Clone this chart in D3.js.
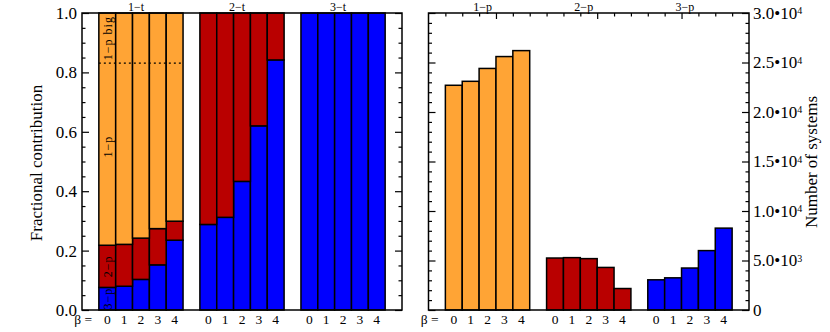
<!DOCTYPE html>
<html>
<head>
<meta charset="utf-8">
<script src="https://cdn.jsdelivr.net/npm/d3@7"></script>
<style>
body { margin: 0; background: #fff; }
svg text { font-family: "Liberation Serif", "Times New Roman", serif; fill: #000; }
</style>
</head>
<body>
<div id="chart"></div>
<script>
// data
var betas = [0, 1, 2, 3, 4];
var fracGroups = ["1−t", "2−t", "3−t"];
var frac3p_1t = [0.076, 0.080, 0.103, 0.152, 0.235];
var frac2p_1t = [0.142, 0.141, 0.139, 0.122, 0.064];
var frac1p_1t = [0.782, 0.779, 0.758, 0.726, 0.701];
var frac3p_2t = [0.288, 0.312, 0.433, 0.620, 0.842];
var frac2p_2t = [0.712, 0.688, 0.567, 0.380, 0.158];
var frac3p_3t = [1, 1, 1, 1, 1];
var bigSplit = 0.831;

var countGroups = ["1−p", "2−p", "3−p"];
var count1p = [22700, 23100, 24400, 25600, 26200];
var count2p = [5250, 5290, 5190, 4300, 2170];
var count3p = [3050, 3250, 4240, 6000, 8270];

var fracTicks = [0, 0.2, 0.4, 0.6, 0.8, 1.0];
var countTicks = [0, 5000, 10000, 15000, 20000, 25000, 30000];
var topMajorSlots = [4, 10, 15];

var colors = { p1: "#FFA435", p2: "#B90000", p3: "#0000FF" };

var svgWidth = 830;
var svgHeight = 332;
var plotTop = 13;
var plotBottom = 310;
var leftBox = { x0: 82, x1: 402 };
var rightBox = { x0: 428.5, x1: 749 };

var svg = d3.select("#chart")
.append("svg")
.attr("width", svgWidth)
.attr("height", svgHeight);

function outerScale(groups, box) {
    return d3.scaleBand()
    .domain(groups)
    .range([box.x0, box.x1])
    .paddingInner(1 / 6)
    .paddingOuter(1 / 6);
}

var xFrac = outerScale(fracGroups, leftBox);
var xCount = outerScale(countGroups, rightBox);
var xBeta = d3.scaleBand().domain(betas).range([0, xFrac.bandwidth()]);
var xBetaR = d3.scaleBand().domain(betas).range([0, xCount.bandwidth()]);

var yFrac = d3.scaleLinear().domain([0, 1]).range([plotBottom, plotTop]);
var yCount = d3.scaleLinear().domain([0, 30000]).range([plotBottom, plotTop]);

// ---------- left panel: stacked fractions ----------
var fracRows = [];
var fracSeries = {
    "1−t": [frac3p_1t, frac2p_1t, frac1p_1t],
    "2−t": [frac3p_2t, frac2p_2t, null],
    "3−t": [frac3p_3t, null, null]
};
fracGroups.forEach(function(g) {
    betas.forEach(function(b, i) {
        var s = fracSeries[g];
        fracRows.push({
            group: g, beta: b,
            p3: s[0] ? s[0][i] : 0,
            p2: s[1] ? s[1][i] : 0,
            p1: s[2] ? s[2][i] : 0
        });
    });
});

var stack = d3.stack().keys(["p3", "p2", "p1"]);
var layers = stack(fracRows);

var leftG = svg.append("g");
layers.forEach(function(layer) {
    leftG.append("g")
    .selectAll("rect")
    .data(layer.filter(d => d[1] - d[0] > 0))
    .enter()
    .append("rect")
    .attr("x", d => xFrac(d.data.group) + xBeta(d.data.beta))
    .attr("width", xBeta.bandwidth())
    .attr("y", d => yFrac(d[1]))
    .attr("height", d => yFrac(d[0]) - yFrac(d[1]))
    .attr("fill", colors[layer.key])
    .attr("stroke", "#000")
    .attr("stroke-width", 1.5);
});

// dotted "1-p big" split
leftG.append("line")
.attr("x1", xFrac("1−t"))
.attr("x2", xFrac("1−t") + xFrac.bandwidth())
.attr("y1", yFrac(bigSplit))
.attr("y2", yFrac(bigSplit))
.attr("stroke", "#000")
.attr("stroke-width", 1.3)
.attr("stroke-dasharray", "2,3");

// labels inside the first bar
var first = fracRows[0];
var inBarLabels = [
    { text: "3−p", v: first.p3 / 2 },
    { text: "2−p", v: first.p3 + first.p2 / 2 },
    { text: "1−p", v: 0.55 },
    { text: "1−p big", v: (bigSplit + 1) / 2 }
];
var cx0 = xFrac("1−t") + xBeta(0) + xBeta.bandwidth() / 2;
leftG.selectAll(".inlab")
.data(inBarLabels)
.enter()
.append("text")
.attr("transform", d => `translate(${cx0 + 0.5},${yFrac(d.v)}) rotate(-90)`)
.attr("text-anchor", "middle")
.attr("dominant-baseline", "central")
.attr("font-size", "12px")
.attr("letter-spacing", "1px")
.text(d => d.text);

// ---------- right panel: counts ----------
var countSeries = { "1−p": count1p, "2−p": count2p, "3−p": count3p };
var countColor = { "1−p": colors.p1, "2−p": colors.p2, "3−p": colors.p3 };
var countRows = [];
countGroups.forEach(function(g) {
    betas.forEach(function(b, i) {
        countRows.push({ group: g, beta: b, value: countSeries[g][i] });
    });
});

var rightG = svg.append("g");
rightG.selectAll("rect")
.data(countRows)
.enter()
.append("rect")
.attr("x", d => xCount(d.group) + xBetaR(d.beta))
.attr("width", xBetaR.bandwidth())
.attr("y", d => yCount(d.value))
.attr("height", d => plotBottom - yCount(d.value))
.attr("fill", d => countColor[d.group])
.attr("stroke", "#000")
.attr("stroke-width", 1.5);

// ---------- axes ----------
function styleAxis(g) {
    g.select(".domain").remove();
    g.selectAll("line").attr("stroke", "#000").attr("stroke-width", 1.2);
    g.attr("font-family", null).attr("font-size", null);
}

function yTicks(scale, box, majors, minors, labelSide, fmt) {
    var leftMaj = d3.axisLeft(scale).tickValues(majors).tickSizeInner(-7).tickSizeOuter(0)
        .tickPadding(5).tickFormat(labelSide === "left" ? fmt : () => "");
    var leftMin = d3.axisLeft(scale).tickValues(minors).tickSizeInner(-3.5).tickSizeOuter(0).tickFormat(() => "");
    var rightMaj = d3.axisRight(scale).tickValues(majors).tickSizeInner(-7).tickSizeOuter(0)
        .tickPadding(4).tickFormat(labelSide === "right" ? fmt : () => "");
    var rightMin = d3.axisRight(scale).tickValues(minors).tickSizeInner(-3.5).tickSizeOuter(0).tickFormat(() => "");

    var a = svg.append("g").attr("transform", `translate(${box.x0},0)`).call(leftMaj).call(styleAxis);
    svg.append("g").attr("transform", `translate(${box.x0},0)`).call(leftMin).call(styleAxis);
    var b = svg.append("g").attr("transform", `translate(${box.x1},0)`).call(rightMaj).call(styleAxis);
    svg.append("g").attr("transform", `translate(${box.x1},0)`).call(rightMin).call(styleAxis);
    return labelSide === "left" ? a : b;
}

var fracMinors = d3.range(0, 1.0001, 0.05).filter(v => Math.abs(v * 5 - Math.round(v * 5)) > 1e-6);
var fracAxis = yTicks(yFrac, leftBox, fracTicks, fracMinors, "left", d3.format(".1f"));
fracAxis.selectAll("text").attr("font-size", "17px");

var countMinors = d3.range(0, 30001, 1000).filter(v => v % 5000 !== 0);
var countAxis = yTicks(yCount, rightBox, countTicks, countMinors, "right", d => d);
countAxis.selectAll("text")
.attr("font-size", "17px")
.each(function(v) {
    var t = d3.select(this).text(null);
    if (v === 0) { t.text("0"); return; }
    var e = Math.floor(Math.log10(v));
    var m = v / Math.pow(10, e);
    t.append("tspan").text(m.toFixed(1) + "\u2022" + "10");
    t.append("tspan").attr("font-size", "10px").attr("dy", "-0.45em").text(e);
});

// top ticks of the right panel
var slotR = d3.scaleLinear().domain([0, 19]).range([rightBox.x0, rightBox.x1]);
var topMinor = d3.range(1, 19).filter(k => topMajorSlots.indexOf(k) < 0);
svg.append("g").attr("transform", `translate(0,${plotTop})`)
.call(d3.axisTop(slotR).tickValues(topMinor).tickSizeInner(-3.5).tickSizeOuter(0).tickFormat(() => ""))
.call(styleAxis);
svg.append("g").attr("transform", `translate(0,${plotTop})`)
.call(d3.axisTop(slotR).tickValues(topMajorSlots).tickSizeInner(-6).tickSizeOuter(0).tickFormat(() => ""))
.call(styleAxis);

// frames
[leftBox, rightBox].forEach(function(b) {
    svg.append("rect")
    .attr("x", b.x0).attr("y", plotTop)
    .attr("width", b.x1 - b.x0).attr("height", plotBottom - plotTop)
    .attr("fill", "none").attr("stroke", "#000").attr("stroke-width", 1.5);
});

// group labels on top
function groupLabels(scale, groups) {
    svg.append("g")
    .selectAll("text")
    .data(groups)
    .enter()
    .append("text")
    .attr("x", d => scale(d) + scale.bandwidth() / 2 - 5)
    .attr("y", 11)
    .attr("text-anchor", "middle")
    .attr("font-size", "12px")
    .text(d => d);
}
groupLabels(xFrac, fracGroups);
groupLabels(xCount, countGroups);

// beta labels under bars
function betaLabels(outer, inner, groups, box) {
    var g = svg.append("g");
    g.append("text")
    .attr("x", box.x0 + 10)
    .attr("y", 324)
    .attr("text-anchor", "end")
    .attr("font-size", "13.5px")
    .text("β =");
    groups.forEach(function(grp) {
        g.append("g")
        .selectAll("text")
        .data(betas)
        .enter()
        .append("text")
        .attr("x", d => outer(grp) + inner(d) + inner.bandwidth() / 2)
        .attr("y", 324)
        .attr("text-anchor", "middle")
        .attr("font-size", "13.5px")
        .text(d => d);
    });
}
betaLabels(xFrac, xBeta, fracGroups, leftBox);
betaLabels(xCount, xBetaR, countGroups, rightBox);

// axis titles
svg.append("text")
.attr("transform", "translate(42,163) rotate(-90)")
.attr("text-anchor", "middle")
.attr("font-size", "17px")
.text("Fractional contribution");

svg.append("text")
.attr("transform", "translate(817,162) rotate(-90)")
.attr("text-anchor", "middle")
.attr("font-size", "17px")
.text("Number of systems");
</script>
</body>
</html>
